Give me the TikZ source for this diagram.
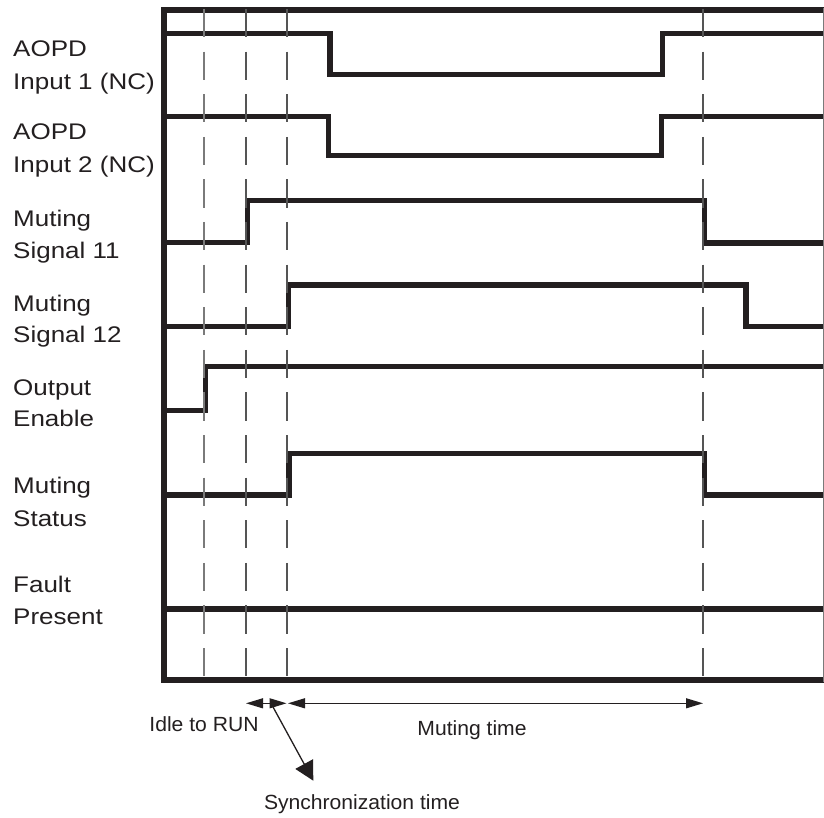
\documentclass[tikz,border=0pt]{standalone}
\usepackage{fontspec}
\setmainfont{Liberation Sans}
\newfontfamily\lblfont[FakeStretch=1.15]{Liberation Sans}
\newfontfamily\botfont[FakeStretch=1.03]{Liberation Sans}
\usetikzlibrary{arrows.meta}
\definecolor{ink}{HTML}{231F20}
\definecolor{dashgray}{HTML}{555555}
\definecolor{dashlight}{HTML}{7A7A7A}
\begin{document}
\begin{tikzpicture}[x=1pt,y=-1pt,
  sig/.style={line width=5.4pt, draw=ink, line join=miter},
  frameline/.style={line width=6pt, draw=ink, line join=miter},
  marker/.style={line width=2.2pt, draw=dashgray, dash pattern=on 28.2pt off 14.4pt},
  lbl/.style={anchor=base west, inner sep=0pt, font=\lblfont\fontsize{22.6}{26}\selectfont, text=ink},
  bot/.style={anchor=base, inner sep=0pt, font=\botfont\fontsize{20.5}{24}\selectfont, text=ink},
  dimline/.style={line width=1.1pt, draw=ink, {Triangle[length=17pt,width=10pt]}-{Triangle[length=17pt,width=10pt]}},
  pointer/.style={line width=1.3pt, draw=ink, fill=ink, -{Triangle[length=19pt,width=20pt]}}
]
\useasboundingbox (0,0) rectangle (824,818);

% labels
\node[lbl] (l1a) at (13,56.7) {AOPD};
\node[lbl] (l1b) at (13,89.3) {Input 1 (NC)};
\node[lbl] (l2a) at (13,140) {AOPD};
\node[lbl] (l2b) at (13,172.7) {Input 2 (NC)};
\node[lbl] (l3a) at (13,226.7) {Muting};
\node[lbl] (l3b) at (13,258.3) {Signal 11};
\node[lbl] (l4a) at (13,311) {Muting};
\node[lbl] (l4b) at (13,342.5) {Signal 12};
\node[lbl] (l5a) at (13,395) {Output};
\node[lbl] (l5b) at (13,426.7) {Enable};
\node[lbl] (l6a) at (13,493.5) {Muting};
\node[lbl] (l6b) at (13,526) {Status};
\node[lbl] (l7a) at (13,592.5) {Fault};
\node[lbl] (l7b) at (13,624.5) {Present};

% signals
\draw[sig] (163,33.3) -- (330,33.3) -- (330,74.5) -- (662.5,74.5) -- (662.5,33.3) -- (824,33.3);
\draw[sig] (163,116.8) -- (328.3,116.8) -- (328.3,155.8) -- (661.7,155.8) -- (661.7,116.8) -- (824,116.8);
\draw[sig] (163,242.8) -- (247.7,242.8) -- (247.7,200.8) -- (704.2,200.8) -- (704.2,243) -- (824,243);
\draw[sig] (163,326.7) -- (288.6,326.7) -- (288.6,285) -- (745.8,285) -- (745.8,326.7) -- (824,326.7);
\draw[sig] (163,410.5) -- (205.3,410.5) -- (205.3,366.7) -- (824,366.7);
\draw[sig] (163,495) -- (288.8,495) -- (288.8,453.2) -- (704.2,453.2) -- (704.2,495) -- (824,495);
\draw[sig] (163,608.8) -- (824,608.8);

% frame
\draw[frameline] (824,10.3) -- (163.7,10.3) -- (163.7,679.7) -- (824,679.7);
\draw[line width=1pt, draw=dashlight] (823.5,8) -- (823.5,682);

% time markers
\draw[marker, draw=dashlight] (204,9) -- (204,679);
\draw[marker] (245.7,9) -- (245.7,679);
\draw[marker] (286.7,9) -- (286.7,679);
\draw[marker] (702.8,9) -- (702.8,679);

% dimension arrows
\coordinate (s0) at (246,703.3);
\coordinate (s1) at (286.5,703.3);
\coordinate (m0) at (288,703.3);
\coordinate (m1) at (703,703.3);
\coordinate (p0) at (271,703.3);
\coordinate (p1) at (313.3,780.7);
\draw[dimline] (s0) -- (s1);
\draw[dimline] (m0) -- (m1);
\draw[pointer] (p0) -- (p1);

\node[bot] (idle) at (204,731) {Idle to RUN};
\node[bot] (mute) at (472,735) {Muting time};
\node[bot] (sync) at (362,809) {Synchronization time};
\end{tikzpicture}
\end{document}
